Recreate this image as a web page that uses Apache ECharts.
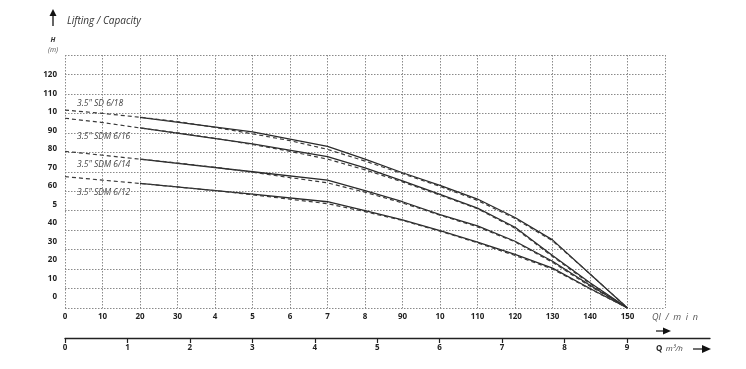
<!DOCTYPE html>
<html>
<head>
<meta charset="utf-8">
<script src="https://cdn.jsdelivr.net/npm/echarts@6/dist/echarts.min.js"></script>
<style>
html,body{margin:0;padding:0;background:#fff;}
#c{width:746px;height:369px;}
</style>
</head>
<body>
<div id="c"></div>
<script>
// ---- data ----
const qLabels = ['0','10','20','30','4','5','6','7','8','90','10','110','120','130','140','150'];
const hLabels = ['0','10','20','30','40','5','60','70','80','90','10','110','120'];
const m3Labels = ['0','1','2','3','4','5','6','7','8','9'];
const seriesNames = ['3.5" SD 6/18','3.5" SDM 6/16','3.5" SDM 6/14','3.5" SDM 6/12'];

const qSolid = [20,50,70,80,90,100,110,120,130,140,150];
const qDashed = [0,10,20,30,40,50,60,70,80,90,100,110,120,130,140,150];

const sd618Solid  = [98, 90.5, 83, 76.5, 69.5, 63, 56, 46.5, 35, 17.5, 0];
const sd618Dashed = [101.7, 100, 98, 95.8, 92.8, 89.5, 86, 81.5, 75.5, 69, 62.5, 55.3, 46, 34.5, 17.5, 0];
const sdm616Solid  = [92.5, 84.3, 77.8, 72, 65.3, 58.4, 51.3, 41.5, 27, 13, 0];
const sdm616Dashed = [97.5, 95.3, 92.5, 90, 87.2, 84, 80.5, 76.5, 71, 64.8, 58, 51, 41, 26.5, 12.5, 0];
const sdm614Solid  = [76.5, 70, 65.7, 60.3, 54.6, 48, 42.2, 34.3, 24, 11.7, 0];
const sdm614Dashed = [80.5, 78.5, 76.5, 74.5, 72.3, 69.8, 67, 64.3, 59.5, 54, 47.7, 41.7, 34, 23.5, 11.2, 0];
const sdm612Solid  = [64, 58.5, 54.6, 50, 45.3, 39.8, 33.8, 27.5, 20.5, 10, 0];
const sdm612Dashed = [67.5, 65.7, 64, 62.2, 60.3, 58.2, 55.9, 53.6, 49.5, 45, 39.5, 33.5, 27, 20, 9.8, 0];

const solids = [sd618Solid, sdm616Solid, sdm614Solid, sdm612Solid];
const dashes = [sd618Dashed, sdm616Dashed, sdm614Dashed, sdm612Dashed];

// ---- build ----
const zip = (xs, ys) => xs.map((x, i) => [x, ys[i]]);
const series = [];
solids.forEach((s, i) => {
  series.push({
    name: seriesNames[i] + ' solid', type: 'line', xAxisIndex: 0, yAxisIndex: 0,
    data: zip(qSolid, s), symbol: 'none', silent: true,
    lineStyle: {color: '#2a2a2a', width: 1.3, type: 'solid'}
  });
  series.push({
    name: seriesNames[i] + ' dashed', type: 'line', xAxisIndex: 0, yAxisIndex: 0,
    data: zip(qDashed, dashes[i]), symbol: 'none', silent: true,
    lineStyle: {color: '#3a3a3a', width: 1.2, type: [4, 3]}
  });
});

const labelFont = {fontFamily: 'Open Sans', fontSize: 8, fontWeight: 'bold', color: '#222'};
const curveLabelY = [104, 137, 165, 193];

const graphic = [
  // up arrow
  {type: 'line', shape: {x1: 53, y1: 26, x2: 53, y2: 15}, style: {stroke: '#111', lineWidth: 1.3}},
  {type: 'polygon', shape: {points: [[53, 9], [49.5, 16], [56.5, 16]]}, style: {fill: '#111'}},
  {type: 'text', x: 67, y: 21, style: {text: 'Lifting / Capacity', fontFamily: 'Open Sans', fontStyle: 'italic', fontSize: 10, fill: '#333', verticalAlign: 'middle'}},
  {type: 'text', x: 53, y: 40, style: {text: 'H', fontFamily: 'Open Sans', fontStyle: 'italic', fontWeight: 'bold', fontSize: 7, fill: '#333', align: 'center', verticalAlign: 'middle'}},
  {type: 'text', x: 53, y: 50, style: {text: '(m)', fontFamily: 'Open Sans', fontStyle: 'italic', fontSize: 7, fill: '#555', align: 'center', verticalAlign: 'middle'}},
  // Ql/min
  {type: 'text', x: 652, y: 317, style: {text: 'Ql  /  m  i  n', fontFamily: 'Open Sans', fontStyle: 'italic', fontSize: 9, fill: '#555', verticalAlign: 'middle'}},
  {type: 'line', shape: {x1: 656, y1: 331, x2: 666, y2: 331}, style: {stroke: '#111', lineWidth: 1.2}},
  {type: 'polygon', shape: {points: [[671, 331], [663, 327.5], [663, 334.5]]}, style: {fill: '#111'}},
  // Q m3/h
  {type: 'text', x: 656, y: 349, style: {text: '{b|Q} {i|m³/h}', verticalAlign: 'middle',
    rich: {b: {fontFamily: 'Open Sans', fontWeight: 'bold', fontSize: 8, fill: '#222'},
           i: {fontFamily: 'Open Sans', fontStyle: 'italic', fontSize: 8, fill: '#444'}}}},
  {type: 'line', shape: {x1: 693, y1: 349, x2: 704, y2: 349}, style: {stroke: '#111', lineWidth: 1.2}},
  {type: 'polygon', shape: {points: [[711, 349], [702, 345], [702, 353]]}, style: {fill: '#111'}}
];
seriesNames.forEach((n, i) => {
  graphic.push({type: 'text', x: 77, y: curveLabelY[i], style: {text: n, fontFamily: 'Open Sans', fontStyle: 'italic', fontSize: 8.5, fill: '#444', verticalAlign: 'middle'}});
});

const dotted = {color: '#8a8a8a', width: 1, type: [1.5, 1.5]};

const option = {
  animation: false,
  backgroundColor: '#fff',
  grid: [
    {left: 65, right: 81, top: 55, bottom: 61},
    {left: 65, right: 81, top: 75, bottom: 72},
    {left: 65, right: 36, top: 300, bottom: 31}
  ],
  xAxis: [
    {gridIndex: 0, type: 'value', min: 0, max: 160, interval: 10,
     axisLine: {show: false}, axisTick: {show: false},
     splitLine: {show: true, lineStyle: dotted},
     axisLabel: Object.assign({margin: 5, formatter: v => (qLabels[Math.round(v / 10)] ?? '')}, labelFont)},
    {gridIndex: 1, type: 'value', min: 0, max: 1, show: false},
    {gridIndex: 2, type: 'value', min: 0, max: 10.33, interval: 1, position: 'bottom',
     axisLine: {show: true, lineStyle: {color: '#222', width: 1.3}},
     axisTick: {show: true, length: 5, lineStyle: {color: '#222', width: 1.2}, customValues: [0,1,2,3,4,5,6,7,8,9]},
     splitLine: {show: false},
     axisLabel: Object.assign({margin: 6, customValues: [0,1,2,3,4,5,6,7,8,9], formatter: v => (m3Labels[Math.round(v)] ?? '')}, labelFont)}
  ],
  yAxis: [
    {gridIndex: 0, type: 'value', min: 0, max: 130, interval: 10,
     axisLine: {show: false}, axisTick: {show: false}, axisLabel: {show: false},
     splitLine: {show: true, lineStyle: dotted}},
    {gridIndex: 1, type: 'value', min: 0, max: 120, interval: 10,
     axisLine: {show: false}, axisTick: {show: false}, splitLine: {show: false},
     axisLabel: Object.assign({margin: 8, formatter: v => (hLabels[Math.round(v / 10)] ?? '')}, labelFont)},
    {gridIndex: 2, type: 'value', min: 0, max: 1, show: false}
  ],
  series: series,
  graphic: graphic
};

const chart = echarts.init(document.getElementById('c'), null, {renderer: 'canvas'});
chart.setOption(option);
</script>
</body>
</html>
